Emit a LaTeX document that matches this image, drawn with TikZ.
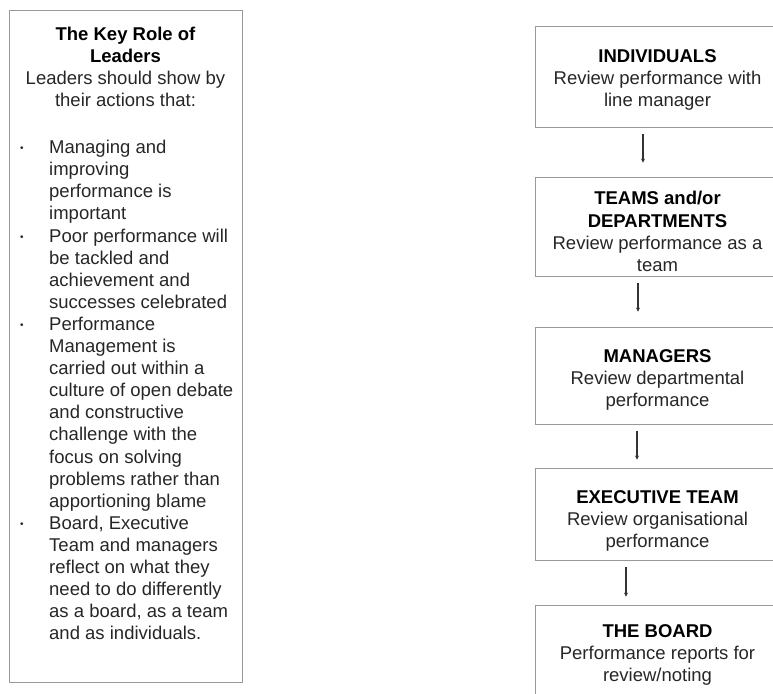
\documentclass[tikz,border=0pt]{standalone}
\usepackage{fontspec}
\setmainfont{Liberation Sans}
\usepackage{xcolor}
\usetikzlibrary{arrows.meta, positioning}

\newcommand{\itm}{\makebox[30pt][l]{\hspace{1pt}\raisebox{2pt}{\fontsize{10}{10}\selectfont\textbullet}}}
\newcommand{\cnt}{\hspace*{30pt}}
\newcommand{\hd}[2][0pt]{\rule{0pt}{#1}\textbf{\color{black}#2}}

\begin{document}
\begin{tikzpicture}[
  x=1pt, y=-1pt,
  font=\fontsize{18.5}{22.1}\selectfont,
  panel/.style={rectangle, draw=gray!80, line width=0.9pt, inner sep=0pt},
  stage/.style={rectangle, draw=gray!80, line width=0.9pt, minimum width=245pt,
                align=center, inner sep=0pt, text=black!85},
  flow/.style={-{Stealth[length=4pt,width=4pt]}, line width=1.3pt, black!80, shorten <=6.5pt}
]
\useasboundingbox (0,0) rectangle (773,693);
\clip (0,0) rectangle (773,693);

% --- left panel: role of leaders ---
\node[panel, minimum width=233pt, minimum height=672pt] (roles) at (125.5,346) {};
\node[anchor=north, align=center, inner sep=0pt, text=black!85] (keyrole) at (125.5,26.5)
  {\hd{The Key Role of}\\\hd{Leaders}\\Leaders should show by\\their actions that:};
\node[anchor=north west, align=left, inner sep=0pt, text=black!85] (points) at (19,140)
  {\itm Managing and\\
   \cnt improving\\
   \cnt performance is\\
   \cnt important\\
   \itm Poor performance will\\
   \cnt be tackled and\\
   \cnt achievement and\\
   \cnt successes celebrated\\
   \itm Performance\\
   \cnt Management is\\
   \cnt carried out within a\\
   \cnt culture of open debate\\
   \cnt and constructive\\
   \cnt challenge with the\\
   \cnt focus on solving\\
   \cnt problems rather than\\
   \cnt apportioning blame\\
   \itm Board, Executive\\
   \cnt Team and managers\\
   \cnt reflect on what they\\
   \cnt need to do differently\\
   \cnt as a board, as a team\\
   \cnt and as individuals.};

% --- right column: review stages ---
\node[stage, minimum height=101pt] (indiv) at (657.5,76.5)
  {\hd[19.3pt]{INDIVIDUALS}\\Review performance with\\line manager};
\node[stage, minimum height=99pt] (teams) at (657.5,226.5)
  {\hd[23.3pt]{TEAMS and/or}\\\hd{DEPARTMENTS}\\Review performance as a\\team};
\node[stage, minimum height=97pt] (mgrs) at (657.5,375.5)
  {\hd[21.3pt]{MANAGERS}\\Review departmental\\performance};
\node[stage, minimum height=92pt] (exec) at (657.5,514)
  {\hd[27.3pt]{EXECUTIVE TEAM}\\Review organisational\\performance};
\node[stage, minimum height=95pt] (board) at (657.5,652.5)
  {\hd[17.3pt]{THE BOARD}\\Performance reports for\\review/noting};

% --- arrows between stages ---
\foreach \a/\b/\dx/\s in {indiv/teams/-14.5/14, teams/mgrs/-19.5/15,
                          mgrs/exec/-20.5/8, exec/board/-31.5/8}
  \draw[flow, shorten >=\s pt] ([xshift=\dx pt]\a.south) -- ([xshift=\dx pt]\b.north);
\end{tikzpicture}
\end{document}
